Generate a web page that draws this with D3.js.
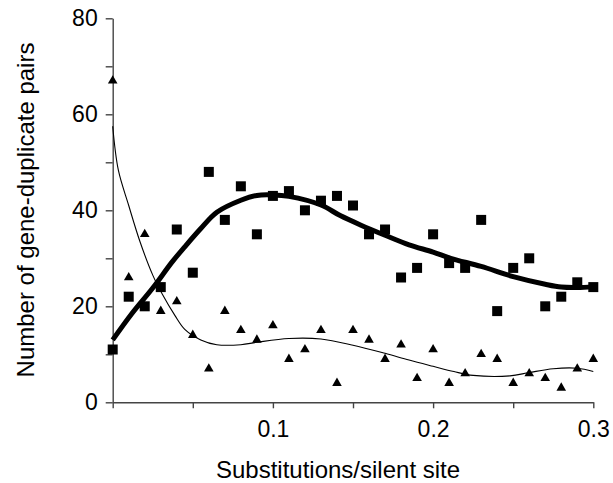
<!DOCTYPE html>
<html><head><meta charset="utf-8">
<script src="https://cdn.jsdelivr.net/npm/d3@7/dist/d3.min.js"></script>
<style>
html,body{margin:0;padding:0;background:#fff;}
svg{display:block;font-family:"Liberation Sans",Arial,Helvetica,sans-serif;}
</style></head>
<body>
<svg id="chart" width="613" height="483"></svg>
<script>
// Data
const xValues = [0,0.01,0.02,0.03,0.04,0.05,0.06,0.07,0.08,0.09,0.10,0.11,0.12,0.13,0.14,0.15,0.16,0.17,0.18,0.19,0.20,0.21,0.22,0.23,0.24,0.25,0.26,0.27,0.28,0.29,0.30];
const squareValues = [11,22,20,24,36,27,48,38,45,35,43,44,40,42,43,41,35,36,26,28,35,29,28,38,19,28,30,20,22,25,24];
const triangleValues = [67,26,35,19,21,14,7,19,15,13,16,9,11,15,4,15,13,9,12,5,11,4,6,10,9,4,6,5,3,7,9];

// Trend lines
const thickTrendX = [0,0.012,0.025,0.037,0.045,0.055,0.065,0.08,0.09,0.10,0.11,0.13,0.142,0.155,0.17,0.185,0.20,0.211,0.23,0.25,0.27,0.28,0.29,0.30];
const thickTrendY = [13.0,18.5,23.8,29.2,32.4,36.2,39.6,42.1,43.1,43.2,42.9,41.1,38.9,36.9,34.8,32.8,31.3,30.0,28.3,26.2,24.6,24.0,23.9,24.1];
const thinTrendX = [0,0.0035,0.01,0.017,0.025,0.031,0.039,0.045,0.055,0.065,0.08,0.09,0.11,0.13,0.15,0.17,0.185,0.20,0.213,0.225,0.248,0.26,0.275,0.29,0.30];
const thinTrendY = [57.5,48.4,41.0,33.5,26.5,22.5,18.0,15.2,13.0,12.0,12.0,12.5,13.3,13.2,11.9,10.2,8.8,7.5,6.4,5.6,5.5,6.2,7.0,7.1,6.4];

const xTickValues = [0,0.05,0.10,0.15,0.20,0.25,0.30];
const xTickLabels = ["","","0.1","","0.2","","0.3"];
const yTickValues = [0,10,20,30,40,50,60,70,80];
const yTickLabels = ["0","","20","","40","","60","","80"];

const xTitle = "Substitutions/silent site";
const yTitle = "Number of gene-duplicate pairs";

const svg = d3.select("#chart");
const x = d3.scaleLinear().domain([0,0.3]).range([112.7,593.3]);
const y = d3.scaleLinear().domain([0,80]).range([402.3,18.3]);
const axisColor = "#444";

// Axes
const xAxis = d3.axisBottom(x).tickValues(xTickValues).tickSize(6).tickSizeOuter(0)
  .tickFormat((d,i)=>xTickLabels[i]).tickPadding(12);
const gx = svg.append("g").attr("transform",`translate(0,${y(0)})`).call(xAxis);
const yAxis = d3.axisLeft(y).tickValues(yTickValues).tickSize(7).tickSizeOuter(0)
  .tickFormat((d,i)=>yTickLabels[i]).tickPadding(8);
const gy = svg.append("g").attr("transform",`translate(${x(0)},0)`).call(yAxis);
[gx,gy].forEach(g=>{
  g.select(".domain").attr("stroke",axisColor).attr("stroke-width",1.4);
  g.selectAll(".tick line").attr("stroke",axisColor).attr("stroke-width",1.4);
  g.selectAll(".tick text").attr("fill","#000").style("font-size","23px")
   .style("font-family",'"Liberation Sans",Arial,sans-serif');
});

// Titles
svg.append("text").attr("x",338).attr("y",478).attr("text-anchor","middle")
  .style("font-size","24px").text(xTitle);
svg.append("text").attr("transform","translate(34,210) rotate(-90)").attr("text-anchor","middle")
  .style("font-size","24px").text(yTitle);

// Trend lines
const line = d3.line().x(d=>x(d[0])).y(d=>y(d[1])).curve(d3.curveCatmullRom.alpha(0.5));
svg.append("path").datum(thinTrendX.map((v,i)=>[v,thinTrendY[i]]))
  .attr("d",line).attr("fill","none").attr("stroke","#000").attr("stroke-width",1.1);
svg.append("path").datum(thickTrendX.map((v,i)=>[v,thickTrendY[i]]))
  .attr("d",line).attr("fill","none").attr("stroke","#000").attr("stroke-width",5);

// Markers
const sq = 10;
svg.append("g").selectAll("rect").data(xValues.map((v,i)=>[v,squareValues[i]])).join("rect")
  .attr("x",d=>x(d[0])-sq/2).attr("y",d=>y(d[1])-sq/2).attr("width",sq).attr("height",sq)
  .attr("fill","#000");
const tri = d3.symbol().type(d3.symbolTriangle).size(40);
svg.append("g").selectAll("path").data(xValues.map((v,i)=>[v,triangleValues[i]])).join("path")
  .attr("d",tri).attr("transform",d=>`translate(${x(d[0])},${y(d[1])})`).attr("fill","#000");
</script>
</body></html>
